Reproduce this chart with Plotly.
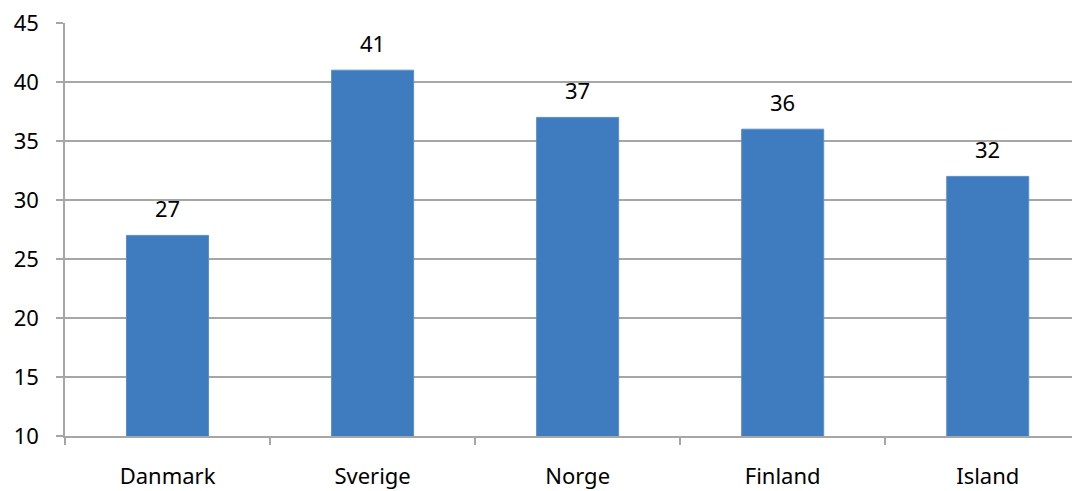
import plotly.graph_objects as go

categories = ["Danmark", "Sverige", "Norge", "Finland", "Island"]
values = [27, 41, 37, 36, 32]
y_ticks = [10, 15, 20, 25, 30, 35, 40, 45]

grid = "#A6A6A6"
font_family = "Noto Sans"
fsize = 22

fig = go.Figure(go.Bar(
    x=categories, y=values,
    marker=dict(color="#3F7CBF", line=dict(color="#5A8FCB", width=1)),
    width=0.4,
    cliponaxis=False,
))

for c, v in zip(categories, values):
    fig.add_annotation(x=c, y=v, text=str(v), showarrow=False,
                       yanchor="bottom", yshift=10,
                       font=dict(family=font_family, size=fsize, color="#000000"))

# page body has an 8px margin, so the figure is offset by 8px
fig.update_layout(
    width=1072, height=483,
    margin=dict(l=57, r=0, t=15, b=55),
    paper_bgcolor="white", plot_bgcolor="white",
    showlegend=False,
    font=dict(family=font_family, size=fsize, color="#000000"),
)
fig.update_yaxes(
    range=[10, 45], tickvals=y_ticks, showgrid=True, gridcolor=grid, gridwidth=1.5,
    showline=True, linecolor=grid, linewidth=1.5,
    ticks="outside", ticklen=7, tickcolor=grid, tickwidth=1.5,
    zeroline=False, ticklabelstandoff=13, automargin=False,
    ticklabeloverflow="allow",
    tickfont=dict(family=font_family, size=fsize, color="#000000"),
)
fig.update_xaxes(
    range=[-0.5, 4.45],
    showline=True, linecolor=grid, linewidth=1.5,
    ticks="outside", ticklen=7, tickcolor=grid, tickwidth=1.5,
    tickson="boundaries", showgrid=False, ticklabelstandoff=20, automargin=False,
    ticklabeloverflow="allow",
    tickfont=dict(family=font_family, size=fsize, color="#000000"),
)
fig.write_html("out.html")
